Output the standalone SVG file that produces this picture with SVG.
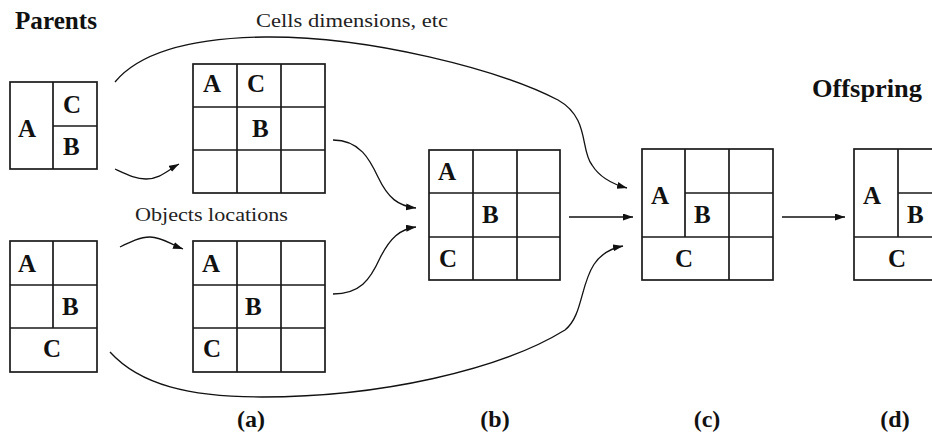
<svg xmlns="http://www.w3.org/2000/svg" width="932" height="437" viewBox="0 0 932 437">
  <style>
    .cell { fill: none; stroke: #1a1a1a; stroke-width: 1.7; }
    .ltr { font-family: "Liberation Serif", "Times New Roman", serif; font-weight: bold; font-size: 25px; fill: #111; }
    .title { font-family: "Liberation Serif", "Times New Roman", serif; font-weight: bold; font-size: 25px; fill: #111; }
    .note { font-family: "Liberation Serif", "Times New Roman", serif; font-size: 18px; fill: #222; }
    .cap { font-family: "Liberation Serif", "Times New Roman", serif; font-weight: bold; font-size: 24px; fill: #111; text-anchor: middle; }
    .wire { fill: none; stroke: #111; stroke-width: 1.3; marker-end: url(#head); }
  </style>
  <defs>
    <marker id="head" markerUnits="userSpaceOnUse" markerWidth="11" markerHeight="8" refX="10" refY="3.5" orient="auto">
      <path d="M0,0 L10,3.5 L0,7 z" fill="#111"/>
    </marker>
  </defs>

  <rect width="932" height="437" fill="#fff"/>

  <!-- headings and captions -->
  <text class="title" x="15" y="29" textLength="82" lengthAdjust="spacingAndGlyphs">Parents</text>
  <text class="title" x="812" y="97" textLength="110" lengthAdjust="spacingAndGlyphs">Offspring</text>
  <text class="note" x="256" y="27" textLength="192" lengthAdjust="spacingAndGlyphs">Cells dimensions, etc</text>
  <text class="note" x="135" y="221" textLength="153" lengthAdjust="spacingAndGlyphs">Objects locations</text>
  <text class="cap" x="251" y="427">(a)</text>
  <text class="cap" x="495" y="427">(b)</text>
  <text class="cap" x="707" y="427">(c)</text>
  <text class="cap" x="895" y="427">(d)</text>

  <!-- parent 1 -->
  <g id="parent1">
    <rect class="cell" x="10" y="82" width="87" height="87"/>
    <path class="cell" d="M53,82 V169 M53,126 H97"/>
    <text class="ltr" x="18" y="137">A</text>
    <text class="ltr" x="63" y="113">C</text>
    <text class="ltr" x="63" y="155">B</text>
  </g>

  <!-- parent 2 -->
  <g id="parent2">
    <rect class="cell" x="10" y="241" width="87" height="131"/>
    <path class="cell" d="M10,285 H97 M10,328 H97 M53,241 V328"/>
    <text class="ltr" x="18" y="272">A</text>
    <text class="ltr" x="62" y="315">B</text>
    <text class="ltr" x="43" y="357">C</text>
  </g>

  <!-- grid (a), cell sizes -->
  <g id="gridA1">
    <rect class="cell" x="193" y="64" width="132" height="129"/>
    <path class="cell" d="M237,64 V193 M281,64 V193 M193,107 H325 M193,150 H325"/>
    <text class="ltr" x="203" y="92">A</text>
    <text class="ltr" x="247" y="92">C</text>
    <text class="ltr" x="252" y="137">B</text>
  </g>

  <!-- grid (a), object locations -->
  <g id="gridA2">
    <rect class="cell" x="193" y="241" width="132" height="131"/>
    <path class="cell" d="M237,241 V372 M281,241 V372 M193,285 H325 M193,328 H325"/>
    <text class="ltr" x="202" y="272">A</text>
    <text class="ltr" x="245" y="315">B</text>
    <text class="ltr" x="203" y="357">C</text>
  </g>

  <!-- grid (b) -->
  <g id="gridB">
    <rect class="cell" x="429" y="150" width="131" height="130"/>
    <path class="cell" d="M473,150 V280 M517,150 V280 M429,193 H560 M429,237 H560"/>
    <text class="ltr" x="438" y="180">A</text>
    <text class="ltr" x="482" y="223">B</text>
    <text class="ltr" x="439" y="267">C</text>
  </g>

  <!-- grid (c) -->
  <g id="gridC">
    <rect class="cell" x="642" y="149" width="131" height="131"/>
    <path class="cell" d="M685,149 V237 M729,149 V280 M685,193 H773 M642,237 H773"/>
    <text class="ltr" x="651" y="204">A</text>
    <text class="ltr" x="694" y="223">B</text>
    <text class="ltr" x="675" y="267">C</text>
  </g>

  <!-- grid (d) -->
  <g id="gridD">
    <rect class="cell" x="854" y="149" width="88" height="131"/>
    <path class="cell" d="M898,149 V237 M898,193 H942 M854,237 H942"/>
    <text class="ltr" x="863" y="204">A</text>
    <text class="ltr" x="907" y="223">B</text>
    <text class="ltr" x="888" y="267">C</text>
  </g>

  <!-- connectors -->
  <g id="connectors">
    <path class="wire" d="M115,82 C140,52 190,38 265,37 C370,36 500,70 558,100 C590,118 580,150 592,165 C600,178 612,184 627,188"/>
    <path class="wire" d="M115,169 C128,175 136,179 146,179 C160,179 168,170 179,164"/>
    <path class="wire" d="M120,247 C130,242 140,237 150,237 C162,237 170,244 183,249"/>
    <path class="wire" d="M110,352 C140,385 190,397 262,397 C380,397 500,370 565,330 C590,310 575,255 623,246"/>
    <path class="wire" d="M333,140 C360,140 370,160 378,177 C388,198 398,206 416,208"/>
    <path class="wire" d="M333,294 C360,294 370,280 380,258 C390,238 400,229 416,227"/>
    <path class="wire" d="M569,217 H633"/>
    <path class="wire" d="M782,217 H845"/>
  </g>
</svg>
